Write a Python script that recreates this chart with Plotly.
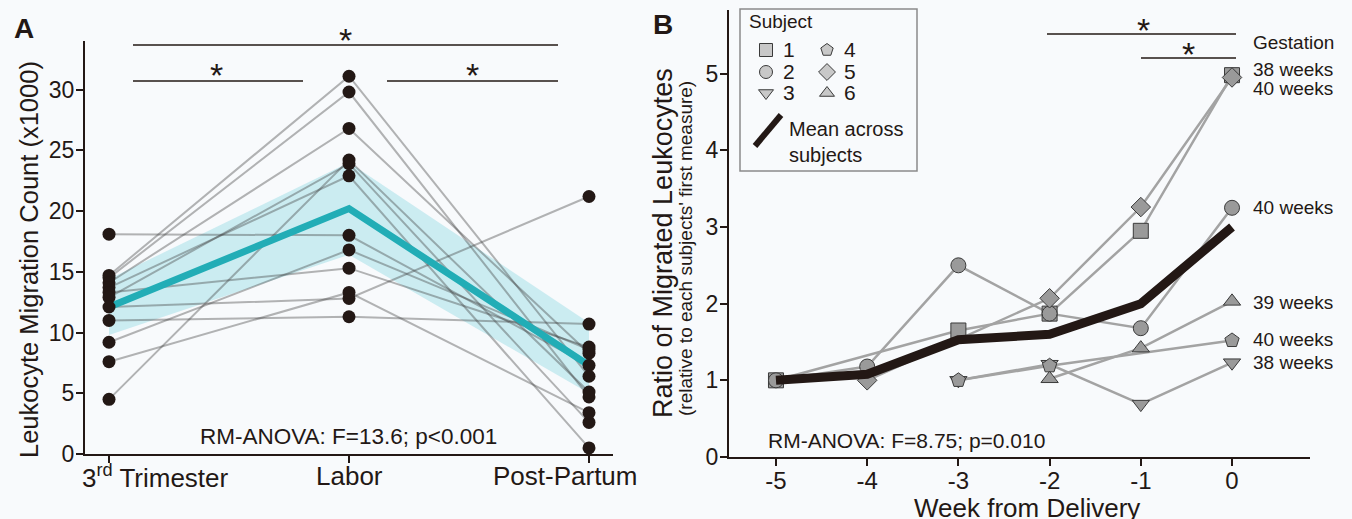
import plotly.graph_objects as go

W, H = 1352, 519
FONT = "Liberation Sans, Arial, sans-serif"
INK = "#231815"
BG = "#f8fafc"

def px(x):
    return x / W

def py(y):
    return 1 - y / H

# ---------------- Panel A data ----------------
stage_pos = [0, 1, 2]
stage_labels = ["3<sup>rd</sup> Trimester", "Labor", "Post-Partum"]
trimester = [18.1, 14.7, 14.5, 14.1, 13.7, 13.3, 12.9, 12.1, 11.0, 9.2, 7.6, 4.5]
labor = [18.0, 31.1, 29.8, 26.8, 22.9, 15.3, 23.9, 12.8, 11.3, 16.8, 13.3, 24.2]
postpartum = [7.3, 6.4, 4.7, 8.3, 0.5, 8.8, 2.6, 21.2, 10.7, 8.6, 3.4, 5.1]
mean_a = [12.1, 20.2, 7.3]
band_low = [9.8, 16.4, 5.0]
band_high = [14.4, 24.0, 10.8]
a_yticks = [0, 5, 10, 15, 20, 25, 30]

# ---------------- Panel B data ----------------
weeks = [-5, -4, -3, -2, -1, 0]
week_labels = ["-5", "-4", "-3", "-2", "-1", "0"]
subj1 = [1.0, None, 1.65, 1.87, 2.95, 4.98]
subj2 = [1.0, 1.18, 2.50, 1.87, 1.68, 3.25]
subj3 = [None, None, 1.0, 1.21, 0.69, 1.23]
subj4 = [None, None, 1.0, 1.19, None, 1.52]
subj5 = [None, 1.0, None, 2.07, 3.26, 4.95]
subj6 = [None, None, None, 1.02, 1.42, 2.03]
mean_b = [1.0, 1.08, 1.53, 1.60, 2.00, 3.00]
subject_names = ["1", "2", "3", "4", "5", "6"]
subject_symbols = ["square", "circle", "triangle-down", "pentagon", "diamond", "triangle-up"]
gestation_labels = ["38 weeks", "40 weeks", "40 weeks", "39 weeks", "40 weeks", "38 weeks"]
gestation_y = [5.06, 4.80, 3.25, 2.02, 1.53, 1.23]
b_yticks = [0, 1, 2, 3, 4, 5]

# panel B pixel geometry (for placing the legend box content)
B_X0, B_X1, B_XR = 729, 1310, (-5.515, 0.855)
B_Y0, B_Y1, B_YR = 457, 10, (0, 5.83)

def bx(p):
    return B_XR[0] + (p - B_X0) / (B_X1 - B_X0) * (B_XR[1] - B_XR[0])

def by(p):
    return B_YR[0] + (B_Y0 - p) / (B_Y0 - B_Y1) * (B_YR[1] - B_YR[0])

fig = go.Figure()

# Panel A band
fig.add_trace(go.Scatter(x=stage_pos + stage_pos[::-1], y=band_high + band_low[::-1],
                         fill="toself", fillcolor="rgba(120,208,220,0.35)",
                         line=dict(width=0), mode="lines", hoverinfo="skip",
                         xaxis="x", yaxis="y", showlegend=False))
for t, l, p in zip(trimester, labor, postpartum):
    fig.add_trace(go.Scatter(x=stage_pos, y=[t, l, p], mode="lines",
                             line=dict(color="rgba(60,60,60,0.38)", width=2),
                             xaxis="x", yaxis="y", showlegend=False, hoverinfo="skip"))
fig.add_trace(go.Scatter(x=stage_pos, y=mean_a, mode="lines",
                         line=dict(color="#22adb6", width=7),
                         xaxis="x", yaxis="y", showlegend=False))
for i, vals in enumerate([trimester, labor, postpartum]):
    fig.add_trace(go.Scatter(x=[stage_pos[i]] * len(vals), y=vals, mode="markers",
                             marker=dict(color=INK, size=13),
                             xaxis="x", yaxis="y", showlegend=False, cliponaxis=False))

# Panel B
subjects = [subj1, subj2, subj3, subj4, subj5, subj6]
for vals in subjects:
    fig.add_trace(go.Scatter(x=weeks, y=vals, mode="lines", connectgaps=True,
                             line=dict(color="#a3a3a3", width=2.5),
                             xaxis="x2", yaxis="y2", showlegend=False, hoverinfo="skip"))
for vals, sym in zip(subjects, subject_symbols):
    fig.add_trace(go.Scatter(x=weeks, y=vals, mode="markers",
                             marker=dict(symbol=sym, size=15, color="#9a9a9a",
                                         line=dict(color="#3a3a3a", width=1)),
                             xaxis="x2", yaxis="y2", showlegend=False, cliponaxis=False))
fig.add_trace(go.Scatter(x=weeks, y=mean_b, mode="lines",
                         line=dict(color=INK, width=9),
                         xaxis="x2", yaxis="y2", showlegend=False))

# Legend symbols drawn inside the panel B box
leg_x = [766, 766, 766, 827, 827, 827]
leg_y = [50, 72, 93, 50, 72, 93]
for sym, lx, ly in zip(subject_symbols, leg_x, leg_y):
    fig.add_trace(go.Scatter(x=[bx(lx)], y=[by(ly)], mode="markers",
                             marker=dict(symbol=sym, size=13, color="#c8c8c8",
                                         line=dict(color="#3a3a3a", width=1)),
                             xaxis="x2", yaxis="y2", showlegend=False, hoverinfo="skip",
                             cliponaxis=False))
fig.add_trace(go.Scatter(x=[bx(755), bx(781)], y=[by(146), by(115)], mode="lines",
                         line=dict(color=INK, width=6),
                         xaxis="x2", yaxis="y2", showlegend=False, hoverinfo="skip",
                         cliponaxis=False))

def axis(size, standoff):
    return dict(showline=True, linecolor=INK, linewidth=2, ticks="outside",
                ticklen=7, tickwidth=2, tickcolor=INK, showgrid=False, zeroline=False,
                automargin=False, ticklabelstandoff=standoff,
                tickfont=dict(family=FONT, size=size, color=INK))

fig.update_layout(
    template="none",
    width=W, height=H, margin=dict(l=0, r=0, t=0, b=0, pad=0),
    paper_bgcolor=BG, plot_bgcolor=BG, showlegend=False,
    font=dict(family=FONT, color=INK),
    xaxis=dict(domain=[px(85), px(613)], range=[-0.1, 2.1], tickvals=stage_pos,
               showticklabels=False, anchor="y", **axis(26, -6)),
    yaxis=dict(domain=[py(454), py(41)], range=[0, 34], tickvals=a_yticks,
               anchor="x", **axis(23, -3)),
    xaxis2=dict(domain=[px(B_X0), px(B_X1)], range=list(B_XR), tickvals=weeks,
                ticktext=week_labels, anchor="y2", **axis(24, -6)),
    yaxis2=dict(domain=[py(B_Y0), py(B_Y1)], range=list(B_YR), tickvals=b_yticks,
                anchor="x2", **axis(23, -3)),
)

shapes = []
for x0, x1, y in [(133, 558, 45), (133, 303, 81), (387, 558, 81),
                  (1047, 1236, 34), (1141, 1236, 58)]:
    shapes.append(dict(type="line", xref="paper", yref="paper", x0=px(x0), x1=px(x1),
                       y0=py(y), y1=py(y), line=dict(color=INK, width=1.5)))
shapes.append(dict(type="rect", xref="paper", yref="paper", x0=px(740), x1=px(917),
                   y0=py(171), y1=py(9), line=dict(color="#8a8a8a", width=1.5),
                   fillcolor="rgba(0,0,0,0)"))
fig.update_layout(shapes=shapes)

ann = []
def text(x, y, s, size=20, xanchor="center", yanchor="middle", angle=0):
    ann.append(dict(x=px(x), y=py(y), xref="paper", yref="paper", text=s, showarrow=False,
                    xanchor=xanchor, yanchor=yanchor, textangle=angle,
                    font=dict(family=FONT, size=size, color=INK)))

# Panel A category labels (first/last kept inside the panel, as in the original)
for pos, lab, anch, shift in zip(stage_pos, stage_labels,
                                 ["left", "center", "right"], [-29, 0, 51]):
    ann.append(dict(x=pos, y=py(476), xref="x", yref="paper", text=lab, showarrow=False,
                    xanchor=anch, yanchor="middle", xshift=shift,
                    font=dict(family=FONT, size=26, color=INK)))

text(24, 28, "<b>A</b>", size=28)
text(663, 25, "<b>B</b>", size=28)
text(29, 260, "Leukocyte Migration Count (x1000)", size=25.5, angle=-90)
text(663, 243, "Ratio of Migrated Leukocytes", size=27, angle=-90)
text(686, 249, "(relative to each subjects' first measure)", size=19, angle=-90)
text(1027, 508, "Week from Delivery", size=26)
text(348, 436, "RM-ANOVA: F=13.6; p<0.001", size=22.5)
text(906, 440, "RM-ANOVA: F=8.75; p=0.010", size=21)
for x, y in [(346, 40), (216, 75), (472, 75), (1143, 30), (1188, 54)]:
    text(x, y, "*", size=34)
text(1251, 43, "Gestation", size=19, xanchor="left")
for lab, gy in zip(gestation_labels, gestation_y):
    ann.append(dict(x=bx(1251), y=gy, xref="x2", yref="y2", text=lab, showarrow=False,
                    xanchor="left", yanchor="middle",
                    font=dict(family=FONT, size=19, color=INK)))
text(747, 22, "Subject", size=19, xanchor="left")
for name, lx, ly in zip(subject_names, leg_x, leg_y):
    text(lx + 15, ly, name, size=21, xanchor="left")
text(787, 129, "Mean across", size=20, xanchor="left")
text(787, 155, "subjects", size=20, xanchor="left")
fig.update_layout(annotations=ann)

fig.write_html("out.html")
